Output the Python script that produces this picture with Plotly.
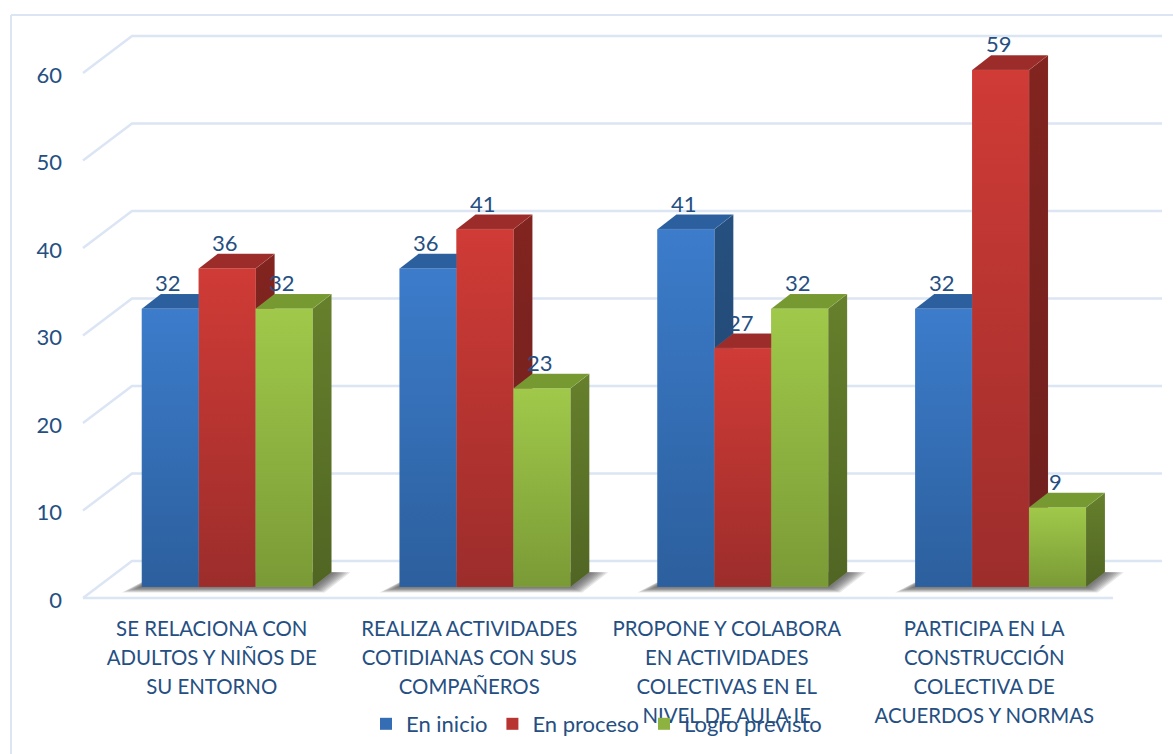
import plotly.graph_objects as go

category_lines = [
    ["SE RELACIONA CON", "ADULTOS Y NIÑOS DE", "SU ENTORNO"],
    ["REALIZA ACTIVIDADES", "COTIDIANAS CON SUS", "COMPAÑEROS"],
    ["PROPONE Y COLABORA", "EN ACTIVIDADES", "COLECTIVAS EN EL", "NIVEL DE AULA IE"],
    ["PARTICIPA EN LA", "CONSTRUCCIÓN", "COLECTIVA DE", "ACUERDOS Y NORMAS"],
]
en_inicio = [31.8, 36.4, 40.9, 31.8]
en_proceso = [36.4, 40.9, 27.3, 59.1]
logro_previsto = [31.8, 22.7, 31.8, 9.1]
y_ticks = [0, 10, 20, 30, 40, 50, 60]

series = [
    ("En inicio", en_inicio, "#3C7CCB", "#2C5F9D", "#2C5F9D", "#26507F", "#1F4470", "#346DB4"),
    ("En proceso", en_proceso, "#D03B36", "#9C2D2B", "#9C2C2A", "#82241F", "#6F201E", "#B83431"),
    ("Logro previsto", logro_previsto, "#A0C94A", "#7A9A36", "#779932", "#66802C", "#506523", "#8DB240"),
]

W, H = 1173, 754
PX_UNIT = 8.75
TEXT = "#254F82"
GRID = "#DBE5F4"
FONT = "Lato"
FS = 22

# pixel geometry of the pseudo-3D box
PERIOD_F, CENTER_F, ZERO_F = 257.5, 211.75, 598
LABEL_SHIFT = 2  # numeric tick labels sit slightly below their grid line
PERIOD_B, CENTER_B, ZERO_B = 257.8, 227.2, 587
BAR_W = 56.9 / PERIOD_B
DX, DY = 19 / PERIOD_B, 14.7 / PX_UNIT
WALL_DX, WALL_DY = 49 / PERIOD_F, 37 / PX_UNIT
GRID_OFF = LABEL_SHIFT / PX_UNIT


def grad(top, bottom):
    return dict(type="vertical", colorscale=[[0, bottom], [1, top]])


fig = go.Figure()

# back wall and floor grid lines on the front-plane axes
for t in y_ticks:
    fig.add_trace(go.Scatter(
        x=[-0.5, -0.5 + WALL_DX, 3.5 + WALL_DX],
        y=[t + GRID_OFF, t + GRID_OFF + WALL_DY, t + GRID_OFF + WALL_DY],
        mode="lines", line=dict(color=GRID, width=2.5),
        showlegend=False, hoverinfo="skip",
    ))
fig.add_trace(go.Scatter(
    x=[-0.5, 3.5], y=[GRID_OFF, GRID_OFF], mode="lines", line=dict(color=GRID, width=2.5),
    showlegend=False, hoverinfo="skip",
))
# invisible carrier so the category axis and value axis are active
fig.add_trace(go.Scatter(x=[0, 1, 2, 3], y=[0, 0, 0, 0], mode="markers",
                         marker=dict(opacity=0), showlegend=False, hoverinfo="skip"))

ax2 = dict(xaxis="x2", yaxis="y2")
common = dict(mode="lines", fill="toself", showlegend=False, hoverinfo="skip", **ax2)
none = dict(width=0)

# soft floor shadows: nested polygons build up a blurred edge
LAYERS = 9
for i in range(4):
    l = i - 1.5 * BAR_W
    r = i + 1.5 * BAR_W
    for k in range(LAYERS, 0, -1):
        f = k / LAYERS
        fig.add_trace(go.Scatter(
            x=[l - f * 20 / PERIOD_B, r + f * 12 / PERIOD_B, r + DX + f * 19 / PERIOD_B, l + DX, l - f * 20 / PERIOD_B],
            y=[-f * 0.62, -f * 0.62, DY, DY, -f * 0.62],
            line=none, fillcolor="rgba(70,70,70,0.13)", **common))

# real bars (legend and data carriers)
for name, vals, ft, fb, tp, st, sb, mid in series:
    fig.add_trace(go.Bar(
        name=name, x=list(range(4)), y=vals, marker=dict(color=mid, line=dict(width=0)),
        hoverinfo="skip", **ax2,
    ))

# faces in painter's order
for s, (name, vals, ft, fb, tp, st, sb, mid) in enumerate(series):
    for i, v in enumerate(vals):
        l = i + (s - 1.5) * BAR_W
        r = l + BAR_W
        fig.add_trace(go.Scatter(
            x=[r, r + DX, r + DX, r, r], y=[0, DY, v + DY, v, 0],
            line=dict(color="rgba(255,255,255,0.12)", width=0.5), fillgradient=grad(st, sb), **common))
        fig.add_trace(go.Scatter(
            x=[l, l + DX, r + DX, r, l], y=[v, v + DY, v + DY, v, v],
            line=dict(color="rgba(255,255,255,0.12)", width=0.5), fillcolor=tp, **common))
        fig.add_trace(go.Scatter(
            x=[l, r, r, l, l], y=[0, 0, v, v, 0],
            line=dict(color="rgba(255,255,255,0.1)", width=0.5), fillgradient=grad(ft, fb), **common))

annotations = []
for s, (name, vals, *_rest) in enumerate(series):
    for i, v in enumerate(vals):
        annotations.append(dict(
            x=i + (s - 1) * BAR_W, y=v, xref="x2", yref="y2", text=f"{v:.0f}",
            showarrow=False, xanchor="center", yanchor="middle", xshift=-2, yshift=26,
            font=dict(family=FONT, size=FS, color=TEXT),
        ))

ticktext = ["<br>".join(f'<span style="font-size:20.4px">{ln}</span>' for ln in lines)
            for lines in category_lines]

fig.update_layout(
    width=W, height=H, margin=dict(l=0, r=0, t=0, b=0),
    paper_bgcolor="white", plot_bgcolor="rgba(0,0,0,0)",
    barmode="group", bargap=1 - 3 * BAR_W, bargroupgap=0,
    font=dict(family=FONT, size=FS, color=TEXT),
    annotations=annotations,
    shapes=[
        dict(type="line", xref="paper", yref="paper", x0=11 / W, x1=1, y0=1 - 15 / H, y1=1 - 15 / H,
             line=dict(color=GRID, width=2), layer="below"),
        dict(type="line", xref="paper", yref="paper", x0=11 / W, x1=11 / W, y0=0, y1=1 - 15 / H,
             line=dict(color=GRID, width=2), layer="below"),
    ],
    xaxis=dict(
        range=[-CENTER_F / PERIOD_F, (W - CENTER_F) / PERIOD_F],
        tickvals=list(range(4)), ticktext=ticktext, tickangle=0,
        anchor="free", position=(H - ZERO_F) / H,
        showgrid=False, zeroline=False, showline=False, ticks="",
        ticklabelstandoff=15,
        tickfont=dict(family=FONT, size=22.3, color=TEXT),
    ),
    yaxis=dict(
        range=[(ZERO_F + LABEL_SHIFT - H) / PX_UNIT, (ZERO_F + LABEL_SHIFT) / PX_UNIT],
        tickvals=y_ticks,
        anchor="free", position=62 / W,
        showgrid=False, zeroline=False, showline=False, ticks="",
        tickfont=dict(family=FONT, size=FS, color=TEXT),
    ),
    xaxis2=dict(
        range=[-CENTER_B / PERIOD_B, (W - CENTER_B) / PERIOD_B],
        overlaying="x", visible=False, anchor="y2",
    ),
    yaxis2=dict(
        range=[(ZERO_B - H) / PX_UNIT, ZERO_B / PX_UNIT],
        overlaying="y", visible=False, anchor="x2",
    ),
    legend=dict(
        orientation="h", x=366 / W, y=1 - 724 / H, xanchor="left", yanchor="middle",
        bgcolor="rgba(0,0,0,0)", font=dict(family=FONT, size=FS, color=TEXT),
        traceorder="normal",
    ),
)

fig.write_html("out.html", config=dict(displayModeBar=False),
               post_script="document.body.style.margin='0';")
